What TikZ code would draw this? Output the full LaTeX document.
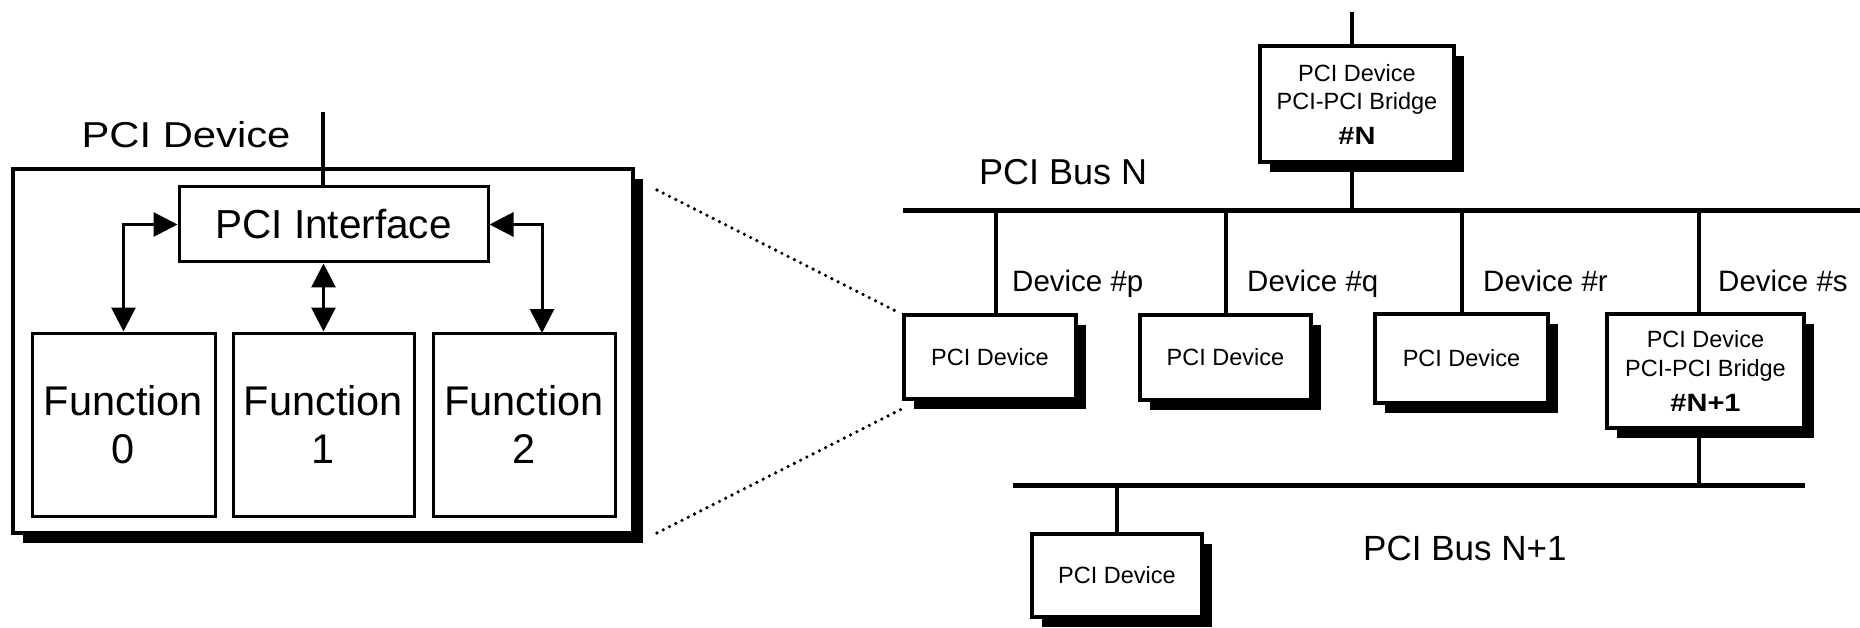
\documentclass[tikz,border=0pt]{standalone}
\usepackage{fontspec}
\setmainfont{Liberation Sans}
\newfontfamily\widefont[FakeStretch=1.16]{Liberation Sans}
\usetikzlibrary{arrows.meta,shadows}
\tikzset{
  box/.style={draw, fill=white, line width=3.2pt, inner sep=0pt, align=center,
    drop shadow={shadow xshift=10pt, shadow yshift=-10pt, opacity=1, fill=black}},
  plainbox/.style={draw, fill=white, line width=3pt, inner sep=0pt, align=center},
  bus/.style={line width=5pt},
  dropline/.style={line width=3.5pt},
  arr/.style={line width=3pt, {Triangle[length=24pt,width=24pt]}-{Triangle[length=24pt,width=24pt]}},
  zoomline/.style={line width=3.6pt, line cap=round, dash pattern=on 0pt off 7pt},
  smallfont/.style={font=\fontsize{23.5}{28.5}\selectfont},
  devlbl/.style={inner sep=0pt, anchor=base west, font=\fontsize{29.5}{34}\selectfont},
  buslbl/.style={inner sep=0pt, anchor=base west},
}
\newcommand{\bnum}[1]{{\widefont\bfseries\fontsize{25}{28.5}\selectfont #1}}
\begin{document}
\begin{tikzpicture}[x=1pt,y=-1pt]
\fill[white] (0,0) rectangle (1860,628);
\useasboundingbox (0,0) rectangle (1860,628);

% ---------- left: PCI device detail ----------
\node[box, minimum width=620pt, minimum height=364pt] (dev) at (323,351) {};
\node[inner sep=0pt, anchor=base, font=\widefont\fontsize{36}{40}\selectfont] (devlabel) at (186,148) {PCI Device};
\node[plainbox, minimum width=309pt, minimum height=75pt, font=\fontsize{40.5}{48}\selectfont] (iface) at (333.5,224.5) {PCI Interface};
\node[plainbox, minimum width=183pt, minimum height=183pt, font=\fontsize{41.5}{48}\selectfont] (f0) at (123.5,424.5) {Function\\0};
\node[plainbox, minimum width=181pt, minimum height=183pt, font=\fontsize{41.5}{48}\selectfont] (f1) at (323.5,424.5) {Function\\1};
\node[plainbox, minimum width=182pt, minimum height=183pt, font=\fontsize{41.5}{48}\selectfont] (f2) at (524,424.5) {Function\\2};

\coordinate (ltop) at (323,112);
\draw[line width=4pt] (ltop) -- (ltop |- iface.north);
\draw[arr] (iface.west) -| (f0.north);
\draw[arr] (f1.north) -- (f1.north |- iface.south);
\coordinate (rarr) at (542,333);
\draw[arr] (iface.east) -| (rarr);

% ---------- right: bus hierarchy ----------
\node[box, minimum width=194pt, minimum height=116pt, smallfont] (bn) at (1357,104)
  {PCI Device\\PCI-PCI Bridge\\[6pt]\bnum{\#N}};
\coordinate (btop) at (1352,12);
\draw[dropline] (btop) -- (btop |- bn.north);

\coordinate (busNl) at (903,211);
\coordinate (busNr) at (1860,211);
\draw[dropline] (btop |- bn.south) -- (btop |- busNl);
\draw[bus] (busNl) -- (busNr);
\node[buslbl, font=\fontsize{36}{40}\selectfont] (busNlabel) at (979,185) {PCI Bus N};

\node[box, minimum width=172pt, minimum height=84pt, smallfont] (devp) at (990,357) {PCI Device};
\node[box, minimum width=171pt, minimum height=85pt, smallfont] (devq) at (1225.5,357.5) {PCI Device};
\node[box, minimum width=173pt, minimum height=89pt, smallfont] (devr) at (1461.5,358.5) {PCI Device};
\node[box, minimum width=197pt, minimum height=114pt, smallfont] (devs) at (1705.5,371)
  {PCI Device\\PCI-PCI Bridge\\[7pt]\bnum{\#N+1}};

\coordinate (dp) at (996,211);
\coordinate (dq) at (1226,211);
\coordinate (dr) at (1462,211);
\coordinate (ds) at (1699,211);
\draw[dropline] (dp) -- (dp |- devp.north);
\draw[dropline] (dq) -- (dq |- devq.north);
\draw[dropline] (dr) -- (dr |- devr.north);
\draw[dropline] (ds) -- (ds |- devs.north);

\node[devlbl] (lp) at (1012,291) {Device \#p};
\node[devlbl] (lq) at (1247,291) {Device \#q};
\node[devlbl] (lr) at (1483,291) {Device \#r};
\node[devlbl] (ls) at (1718,291) {Device \#s};

\coordinate (busBl) at (1013,485);
\coordinate (busBr) at (1805,485);
\draw[dropline] (ds |- devs.south) -- (ds |- busBl);
\draw[bus] (busBl) -- (busBr);
\node[buslbl, font=\fontsize{35}{40}\selectfont] (busBlabel) at (1363,560) {PCI Bus N+1};

\node[box, minimum width=170pt, minimum height=83pt, smallfont] (devb) at (1117,575.5) {PCI Device};
\coordinate (db) at (1117,485);
\draw[dropline] (db) -- (db |- devb.north);

% ---------- zoom lines ----------
\coordinate (zt) at (657,190);
\coordinate (zb) at (657,533);
\draw[zoomline] (zt) -- ([shift={(-2,0)}]devp.north west);
\draw[zoomline] (zb) -- ([shift={(4,6)}]devp.south west);
\end{tikzpicture}
\end{document}
